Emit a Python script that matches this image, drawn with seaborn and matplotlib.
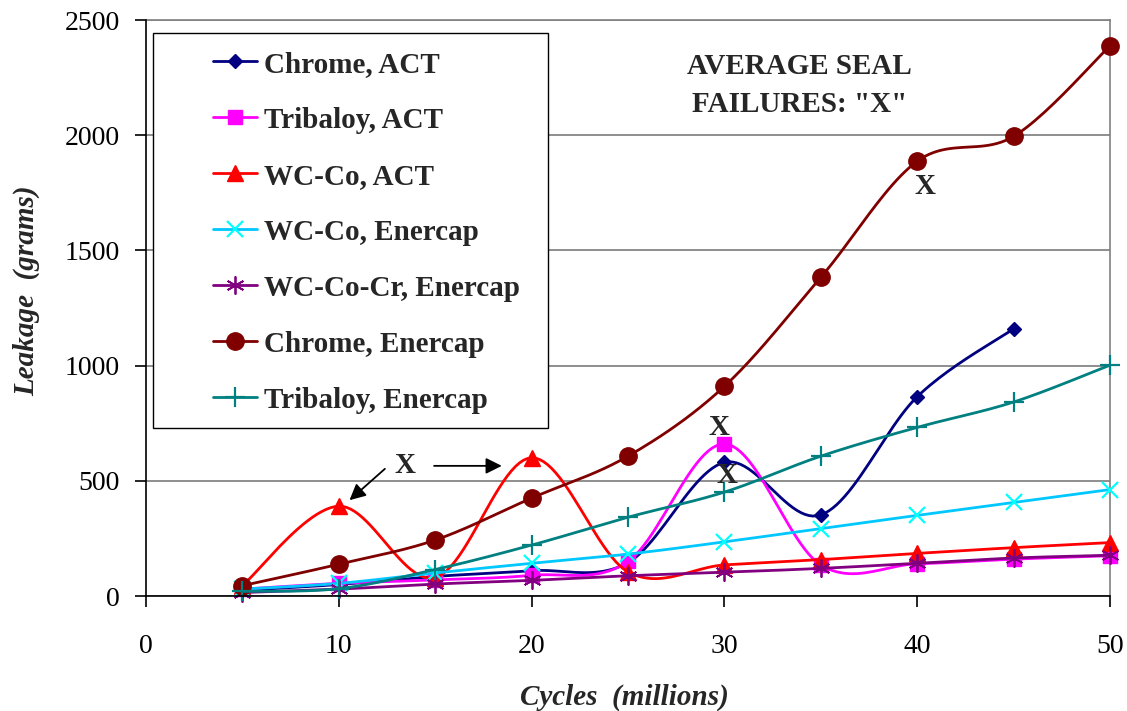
import numpy as np
import matplotlib
matplotlib.use("Agg")
import matplotlib.pyplot as plt
import seaborn as sns
from matplotlib.lines import Line2D
from matplotlib.patches import Rectangle

# ---------- data ---------- #
cycles = [5, 10, 15, 20, 25, 30, 35, 40, 45, 50]

chrome_act = [25, 50, 85, 110, 145, 580, 352, 865, 1160]          # ends at 45
tribaloy_act = [30, 55, 70, 90, 150, 660, 135, 140, 160, 175]
wcco_act = [45, 390, 80, 600, 105, 135, 158, 185, 210, 232]
wcco_enercap = [30, 55, 100, 142, 182, 235, 293, 350, 406, 462]
wccocr_enercap = [15, 30, 52, 68, 88, 103, 120, 142, 165, 177]
chrome_enercap = [45, 138, 243, 425, 607, 910, 1383, 1887, 1995, 2388]
tribaloy_enercap = [20, 32, 115, 221, 342, 451, 607, 732, 842, 1002]

labels = ["Chrome, ACT", "Tribaloy, ACT", "WC-Co, ACT", "WC-Co, Enercap",
          "WC-Co-Cr, Enercap", "Chrome, Enercap", "Tribaloy, Enercap"]
series = [chrome_act, tribaloy_act, wcco_act, wcco_enercap,
          wccocr_enercap, chrome_enercap, tribaloy_enercap]

# line colour, marker colour, marker, marker size, marker edge width
styles = [
    ("#000080", "#000080", "D", 7.5, 1.0),
    ("#FF00FF", "#FF00FF", "s", 9.5, 1.0),
    ("#FF0000", "#FF0000", "^", 11, 1.0),
    ("#00C8FF", "#00FFFF", "x", 12, 1.6),
    ("#800080", "#800080", (6, 2, 0), 13, 1.3),
    ("#800000", "#800000", "o", 12.5, 1.0),
    ("#008080", "#008080", "+", 14, 1.6),
]


def smooth(x, y, n=24):
    """Excel-style smoothed line (Catmull-Rom as cubic Bezier)."""
    pts = np.column_stack([x, y]).astype(float)
    p = np.vstack([pts[0], pts, pts[-1]])
    out = []
    t = np.linspace(0, 1, n, endpoint=False)[:, None]
    for i in range(1, len(p) - 2):
        p0, p1, p2, p3 = p[i - 1], p[i], p[i + 1], p[i + 2]
        c1 = p1 + (p2 - p0) / 6
        c2 = p2 - (p3 - p1) / 6
        out.append((1 - t) ** 3 * p1 + 3 * (1 - t) ** 2 * t * c1
                   + 3 * (1 - t) * t ** 2 * c2 + t ** 3 * p2)
    out.append(pts[-1:])
    return np.vstack(out)


sns.set_style("white")
plt.rcParams["font.family"] = ["Liberation Serif", "DejaVu Serif"]

fig = plt.figure(figsize=(11.27, 7.11), dpi=100)
ax = fig.add_axes([0.1295, 0.1617, 0.8554, 0.8101])

N = 24
handles = []
for vals, lab, (lc, mc, mk, ms, mew) in zip(series, labels, styles):
    xs = cycles[:len(vals)]
    curve = smooth(xs, vals, N)
    sns.lineplot(x=curve[:, 0], y=curve[:, 1], ax=ax, sort=False, estimator=None,
                 color=lc, linewidth=2.0, marker=mk, markersize=ms,
                 markevery=list(range(0, len(curve), N)),
                 markerfacecolor=mc, markeredgecolor=mc, markeredgewidth=mew,
                 clip_on=False, zorder=3)
    handles.append(Line2D([], [], color=lc, linewidth=2.0, marker=mk,
                          markersize=ms, markerfacecolor=mc,
                          markeredgecolor=mc, markeredgewidth=mew, label=lab))

ax.set_xlim(0, 50)
ax.set_ylim(0, 2500)
ax.set_xticks(np.arange(0, 51, 10))
ax.set_yticks(np.arange(0, 2501, 500))
ax.yaxis.grid(True, color="#707070", linewidth=1.1)
ax.xaxis.grid(False)
ax.set_axisbelow(True)
for side in ["left", "bottom"]:
    ax.spines[side].set_color("black")
    ax.spines[side].set_linewidth(1.2)
    ax.spines[side].set_zorder(4)
for side in ["top", "right"]:
    ax.spines[side].set_color("#808080")
    ax.spines[side].set_linewidth(1.2)
ax.tick_params(axis="both", direction="out", length=8, width=1.2, colors="black",
               labelsize=20, bottom=True, left=True)
ax.tick_params(axis="x", pad=19)
ax.tick_params(axis="y", pad=11)

ax.set_xlabel("Cycles  (millions)", fontsize=21, fontweight="bold", style="italic")
ax.set_ylabel("Leakage  (grams)", fontsize=21, fontweight="bold", style="italic")
ax.xaxis.set_label_coords(0.496, -0.153)
ax.yaxis.set_label_coords(-0.11, 0.53)

# legend box
ax.add_patch(Rectangle((0.0073, 0.2917), 0.41, 0.6857, transform=ax.transAxes,
                       facecolor="white", edgecolor="black", linewidth=1.0,
                       zorder=5))
leg = ax.legend(handles=handles, loc="upper left", bbox_to_anchor=(0.0695, 0.947),
                frameon=False, fontsize=21, handlelength=1.5, handletextpad=0.25,
                labelspacing=0.995, borderpad=0, borderaxespad=0)
leg.set_zorder(6)
for txt in leg.get_texts():
    txt.set_fontweight("bold")

# failure annotations
tkw = dict(fontsize=21, fontweight="bold", ha="center", va="center", zorder=7)
ax.text(33.9, 2215, 'AVERAGE SEAL\nFAILURES: "X"', linespacing=1.55, **tkw)
ax.text(13.45, 567, "X", **tkw)
ax.text(29.7, 732, "X", **tkw)
ax.text(30.15, 522, "X", **tkw)
ax.text(40.4, 1777, "X", **tkw)
akw = dict(arrowstyle="-|>", color="black", lw=1.3, mutation_scale=24)
ax.annotate("", xy=(10.45, 408), xytext=(12.5, 560), arrowprops=akw)
ax.annotate("", xy=(18.6, 565), xytext=(14.8, 565), arrowprops=akw)

fig.savefig("out.png", dpi=100)
